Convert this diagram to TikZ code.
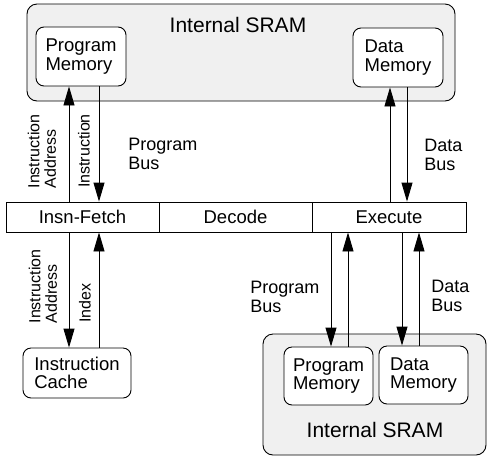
\documentclass[tikz,border=0pt]{standalone}
\usepackage{fontspec}
\setmainfont{Liberation Sans}
\usetikzlibrary{arrows.meta}
\begin{document}
\begin{tikzpicture}[x=1pt,y=-1pt,line width=0.9pt,
  sramstyle/.style={draw,rounded corners=10pt,fill=black!6,inner sep=0pt},
  memstyle/.style={draw,rounded corners=8pt,fill=white,align=left,inner sep=0pt,
    font=\fontsize{18.5}{18.5}\selectfont},
  stagestyle/.style={draw,fill=white,minimum width=153pt,minimum height=30pt,inner sep=0pt,
    font=\fontsize{18.5}{18.5}\selectfont},
  busstyle/.style={align=left,inner sep=0pt,font=\fontsize{18}{19}\selectfont},
  sidestyle/.style={rotate=90,align=left,inner sep=0pt,font=\fontsize{16}{16.5}\selectfont},
  arr/.style={-{Triangle[length=19pt,width=11pt]}}]

\useasboundingbox (0,0) rectangle (487,456);

% internal SRAM, top
\node[sramstyle,minimum width=428pt,minimum height=97pt] (sramtop) at (241,52.5) {};
\node[font=\fontsize{21}{21}\selectfont] (sramtoptxt) at (238,25) {Internal SRAM};
\node[memstyle,minimum width=90pt,minimum height=59pt] (pmtop) at (81,56.5) {Program\\Memory};
\node[memstyle,minimum width=90pt,minimum height=59pt] (dmtop) at (398,57.5) {Data\\Memory};

% pipeline
\node[stagestyle] (fetch) at (82.5,217) {Insn-Fetch};
\node[stagestyle] (decode) at (235.5,217) {Decode};
\node[stagestyle,minimum width=154pt] (exec) at (389,217) {Execute};

% cache
\node[memstyle,minimum width=108pt,minimum height=50pt] (cache) at (77,373) {Instruction\\Cache};

% internal SRAM, bottom
\node[sramstyle,minimum width=223pt,minimum height=121pt] (srambot) at (374.5,394.5) {};
\node[font=\fontsize{21}{21}\selectfont] (srambottxt) at (375,430) {Internal SRAM};
\node[memstyle,minimum width=89pt,minimum height=58pt] (pmbot) at (328.5,376) {Program\\Memory};
\node[memstyle,minimum width=89pt,minimum height=58pt] (dmbot) at (423.5,375) {Data\\Memory};

% columns of the buses
\coordinate (ia) at (69,0);
\coordinate (in) at (99,0);
\coordinate (da) at (390,0);
\coordinate (dd) at (407,0);
\coordinate (pd) at (331,0);
\coordinate (pu) at (348,0);
\coordinate (bd) at (402,0);
\coordinate (bu) at (419,0);

\draw[arr] (ia |- fetch.north) -- (ia |- pmtop.south);
\draw[arr] (in |- pmtop.south) -- (in |- fetch.north);
\draw[arr] (da |- exec.north) -- (da |- dmtop.south);
\draw[arr] (dd |- dmtop.south) -- (dd |- exec.north);

\draw[arr] (ia |- fetch.south) -- (ia |- cache.north);
\draw[arr] (in |- cache.north) -- (in |- fetch.south);
\draw[arr] (pd |- exec.south) -- (pd |- pmbot.north);
\draw[arr] (pu |- pmbot.north) -- (pu |- exec.south);
\draw[arr] (bd |- exec.south) -- (bd |- dmbot.north);
\draw[arr] (bu |- dmbot.north) -- (bu |- exec.south);

% labels
\node[sidestyle] (iatop) at (42,151.5) {Instruction\\Address};
\node[sidestyle] (intop) at (84,151) {Instruction};
\node[busstyle,anchor=west] (pbtop) at (128,154) {Program\\Bus};
\node[busstyle,anchor=west] (dbtop) at (424,155) {Data\\Bus};

\node[sidestyle] (iabot) at (43,286.5) {Instruction\\Address};
\node[sidestyle,anchor=west] (idx) at (85,323) {Index};
\node[busstyle,anchor=west] (pbbot) at (250,296.5) {Program\\Bus};
\node[busstyle,anchor=west] (dbbot) at (431,296) {Data\\Bus};

\end{tikzpicture}
\end{document}
